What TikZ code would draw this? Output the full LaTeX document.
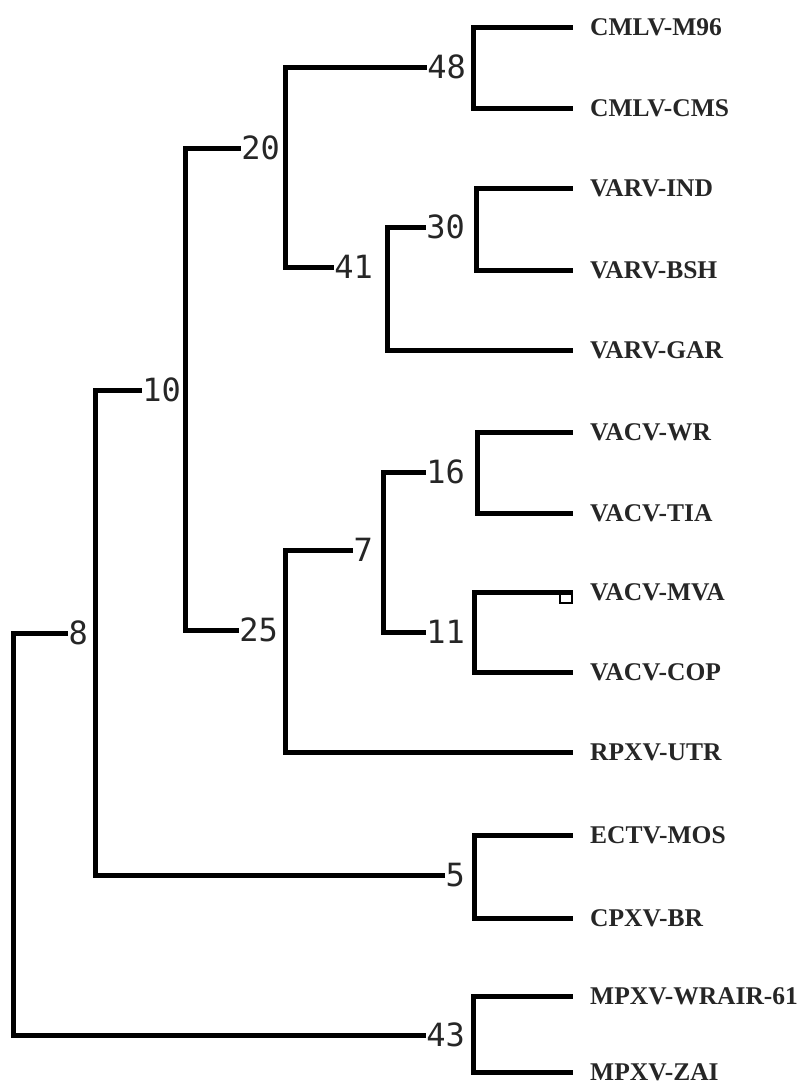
\documentclass[tikz,border=0pt]{standalone}
\usepackage{fontspec}
\newfontfamily\leaffont{Liberation Serif}
\newfontfamily\numfont{DejaVu Sans Mono}
\begin{document}
\begin{tikzpicture}[x=1pt,y=-1pt,
  branch/.style={line width=5pt,line join=miter},
  lbl/.style={inner sep=0pt,anchor=east,font=\numfont\fontsize{32}{32}\selectfont,text=black!85},
  leaf/.style={inner xsep=17pt,inner ysep=0pt,anchor=west,font=\leaffont\bfseries\fontsize{25.5}{25.5}\selectfont,text=black!85}]
\useasboundingbox (0,0) rectangle (801,1082);
% leaves
\node[leaf] (m96) at (573,27) {CMLV-M96};
\node[leaf] (cms) at (573,108) {CMLV-CMS};
\node[leaf] (ind) at (573,188) {VARV-IND};
\node[leaf] (bsh) at (573,270) {VARV-BSH};
\node[leaf] (gar) at (573,350) {VARV-GAR};
\node[leaf] (wr) at (573,432) {VACV-WR};
\node[leaf] (tia) at (573,513) {VACV-TIA};
\node[leaf] (mva) at (573,592) {VACV-MVA};
\node[leaf] (cop) at (573,672) {VACV-COP};
\node[leaf] (utr) at (573,752) {RPXV-UTR};
\node[leaf] (mos) at (573,835) {ECTV-MOS};
\node[leaf] (br) at (573,918) {CPXV-BR};
\node[leaf] (wrair) at (573,996) {MPXV-WRAIR-61};
\node[leaf] (zai) at (573,1072) {MPXV-ZAI};
% internal labels
\node[lbl] (n48) at (466,67) {48};
\node[lbl] (n30) at (465,227) {30};
\node[lbl] (n41) at (373,267) {41};
\node[lbl] (n20) at (280,148) {20};
\node[lbl] (n10) at (181,390) {10};
\node[lbl] (n8) at (88,633) {8};
\node[lbl] (n25) at (278,630) {25};
\node[lbl] (n7) at (373,550) {7};
\node[lbl] (n16) at (465,472) {16};
\node[lbl] (n11) at (465,632) {11};
\node[lbl] (n5) at (465,875) {5};
\node[lbl] (n43) at (465,1035) {43};
% bracket positions
\coordinate (root) at (13,835);
\coordinate (b8) at (95,633);
\coordinate (b10) at (185,390);
\coordinate (b20) at (285,148);
\coordinate (b48) at (473,67);
\coordinate (b41) at (387,267);
\coordinate (b30) at (476,227);
\coordinate (b25) at (285,630);
\coordinate (b7) at (383,550);
\coordinate (b16) at (477,472);
\coordinate (b11) at (474,632);
\coordinate (b5) at (474,875);
\coordinate (b43) at (473,1035);
% connectors
\draw[branch] (root) |- (n8.west);
\draw[branch] (root) |- (n43.west);
\draw[branch] (b8) |- (n10.west);
\draw[branch] (b8) |- (n5.west);
\draw[branch] (b10) |- (n20.west);
\draw[branch] (b10) |- (n25.west);
\draw[branch] (b20) |- (n48.west);
\draw[branch] (b20) |- (n41.west);
\draw[branch] (b48) |- (m96.west);
\draw[branch] (b48) |- (cms.west);
\draw[branch] (b41) |- (n30.west);
\draw[branch] (b41) |- (gar.west);
\draw[branch] (b30) |- (ind.west);
\draw[branch] (b30) |- (bsh.west);
\draw[branch] (b25) |- (n7.west);
\draw[branch] (b25) |- (utr.west);
\draw[branch] (b7) |- (n16.west);
\draw[branch] (b7) |- (n11.west);
\draw[branch] (b16) |- (wr.west);
\draw[branch] (b16) |- (tia.west);
\draw[branch] (b11) |- (mva.west);
\draw[branch] (b11) |- (cop.west);
\draw[branch] (b5) |- (mos.west);
\draw[branch] (b5) |- (br.west);
\draw[branch] (b43) |- (wrair.west);
\draw[branch] (b43) |- (zai.west);
% small marker square
\node[draw,line width=1.5pt,minimum size=12pt,inner sep=0pt] (sq) at (566,597) {};
\end{tikzpicture}
\end{document}
